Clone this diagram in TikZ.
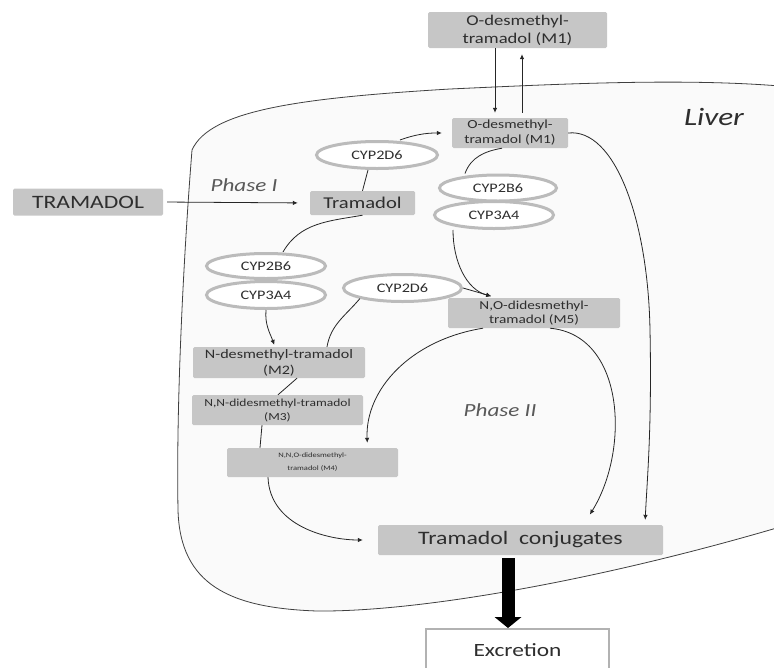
\documentclass[tikz,border=0pt]{standalone}
\usepackage{fontspec}
\setmainfont[FakeStretch=1.25]{Carlito}
\usepackage{tikz}
\usetikzlibrary{positioning}
\usetikzlibrary{shapes.geometric}
\usetikzlibrary{arrows.meta}
\definecolor{boxgray}{HTML}{C6C6C6}
\definecolor{txtgray}{HTML}{2E2E2E}
\definecolor{ringgray}{HTML}{BBBBBB}
\definecolor{livergray}{HTML}{FAFAFA}

\begin{document}
\begin{tikzpicture}[x=1pt,y=1pt,
		mbox/.style={fill=boxgray,rectangle,rounded corners=1.5pt,inner sep=0pt,align=center,text=txtgray},
		enz/.style={fill=white,draw=ringgray,line width=3pt,ellipse,inner sep=0pt,text=txtgray,font=\fontsize{13}{15}\selectfont},
		con/.style={draw=black!85,line width=0.8pt},
		arr/.style={con,-{Latex[length=5pt,width=4.5pt]}},
		phase/.style={text=black!65,font=\itshape\fontsize{18.5}{20}\selectfont}]
		\useasboundingbox (0,0) rectangle (774,-667);
		% liver outline
		\draw[fill=livergray,draw=black!75,line width=0.8pt] (780,-86) .. controls (680,-78) and (560,-84) .. (450,-89)
			.. controls (300,-98) and (210,-110) .. (192,-150)
			.. controls (184,-250) and (176,-400) .. (178,-510)
			.. controls (180,-585) and (230,-608) .. (317,-611)
			.. controls (420,-612) and (600,-580) .. (780,-527) -- cycle;
		% boxes
		\node[mbox,minimum width=179pt,minimum height=36pt,font=\fontsize{14.9}{18}\selectfont] at (517.5,-30) (mout) {O-desmethyl-\\tramadol (M1)};
		\node[mbox,minimum width=116pt,minimum height=30pt,font=\fontsize{12.4}{15}\selectfont] at (510,-133) (min) {O-desmethyl-\\tramadol (M1)};
		\node[mbox,minimum width=150pt,minimum height=27pt,font=\fontsize{18.9}{20}\selectfont] at (88,-202) (tramin) {TRAMADOL};
		\node[mbox,minimum width=105pt,minimum height=24pt,font=\fontsize{16.5}{18}\selectfont] at (362.5,-203) (tram) {Tramadol};
		\node[mbox,minimum width=172pt,minimum height=30pt,font=\fontsize{12.2}{14}\selectfont] at (534,-313) (mfive) {N,O-didesmethyl-\\tramadol (M5)};
		\node[mbox,minimum width=172pt,minimum height=31pt,font=\fontsize{12.9}{16}\selectfont] at (279,-362.5) (mtwo) {N-desmethyl-tramadol\\(M2)};
		\node[mbox,minimum width=171pt,minimum height=30pt,font=\fontsize{10.8}{14}\selectfont] at (277.5,-410) (mthree) {N,N-didesmethyl-tramadol\\(M3)};
		\node[mbox,minimum width=171pt,minimum height=29pt,font=\fontsize{6.8}{13}\selectfont] at (312.5,-462.5) (mfour) {N,N,O-didesmethyl-\\tramadol (M4)};
		\node[mbox,minimum width=285pt,minimum height=30pt,font=\fontsize{19}{20}\selectfont] at (520.5,-540) (conj) {Tramadol\ \ conjugates};
		\node[fill=white,draw=gray!60,line width=2pt,rectangle,inner sep=0pt,minimum width=183pt,minimum height=42pt,text=txtgray,font=\fontsize{18.7}{20}\selectfont] at (517.5,-650) (excr) {Excretion};
		% enzymes
		\node[enz,minimum width=121pt,minimum height=27pt] at (377,-155) (cypt) {CYP2D6};
		\node[enz,minimum width=117pt,minimum height=26pt] at (498,-188) (cypb) {CYP2B6};
		\node[enz,minimum width=119pt,minimum height=27pt] at (494,-215) (cypc) {CYP3A4};
		\node[enz,minimum width=119pt,minimum height=25pt] at (266,-266) (cypbl) {CYP2B6};
		\node[enz,minimum width=119pt,minimum height=27pt] at (266,-295) (cypcl) {CYP3A4};
		\node[enz,minimum width=118pt,minimum height=27pt] at (402.5,-288) (cypm) {CYP2D6};
		% labels
		\node[phase] at (244,-185) (phone) {Phase I};
		\node[phase] at (500,-410) (phtwo) {Phase II};
		\node[text=txtgray,font=\itshape\fontsize{25}{27}\selectfont] at (714,-117) (liv) {Liver};
		% connectors
		\draw[arr,shorten <=4pt,shorten >=12pt] (tramin.east) -- (tram.west);
		\draw[con] (tram.north) -- ([xshift=-9pt]cypt.south);
		\draw[arr,shorten >=10pt] ([xshift=23pt]cypt.north) to[out=20,in=180] (min.west);
		\draw[arr,shorten >=5pt] ([xshift=-22.5pt]mout.south) -- ([xshift=-15pt]min.north);
		\draw[arr,shorten <=5pt,shorten >=6pt] ([xshift=12pt]min.north) -- ([xshift=4.5pt]mout.south);
		\draw[con] ([xshift=-8pt]min.south) to[out=190,in=70] ([xshift=-33pt]cypb.north);
		\draw[arr,shorten >=6pt] ([xshift=-41pt]cypc.south) to[out=-90,in=165] ([xshift=-37pt]mfive.north);
		\draw[arr,shorten >=6pt] (cypm.east) -- ([xshift=-37pt]mfive.north);
		\draw[con] (tram.south) to[out=190,in=60] ([xshift=17pt]cypbl.north);
		\draw[arr,shorten >=2pt] (cypcl.south) to[out=-95,in=110] ([xshift=-4pt]mtwo.north);
		\draw[con] ([xshift=48pt]mtwo.north) to[out=80,in=230] (cypm.194);
		\draw[con] ([xshift=18pt]mtwo.south) -- ([xshift=0.5pt]mthree.north);
		\draw[con] ([xshift=-15.5pt]mthree.south) -- ([xshift=-52.5pt]mfour.north);
		\draw[arr,shorten >=5pt] ([xshift=-51pt]mfive.south) .. controls (410,-340) and (365,-390) .. ([xshift=55pt]mfour.north);
		\draw[arr,shorten >=12pt] ([xshift=16pt]mfive.south) .. controls (625,-335) and (630,-450) .. ([xshift=63pt]conj.north);
		\draw[arr,shorten >=5pt] (min.east) .. controls (615,-128) and (648,-220) .. (650,-330) .. controls (652,-430) and (647,-480) .. ([xshift=124.5pt]conj.north);
		\draw[arr,shorten >=15pt] ([xshift=-44.5pt]mfour.south) to[out=-88,in=180] (conj.west);
		\draw[line width=13pt,-{Triangle[length=11pt 0 0,width=27pt 0 0,line width=0pt]}] ([xshift=-12.5pt,yshift=-3pt]conj.south) -- ([xshift=-9.5pt]excr.north);
	\end{tikzpicture}
\end{document}
